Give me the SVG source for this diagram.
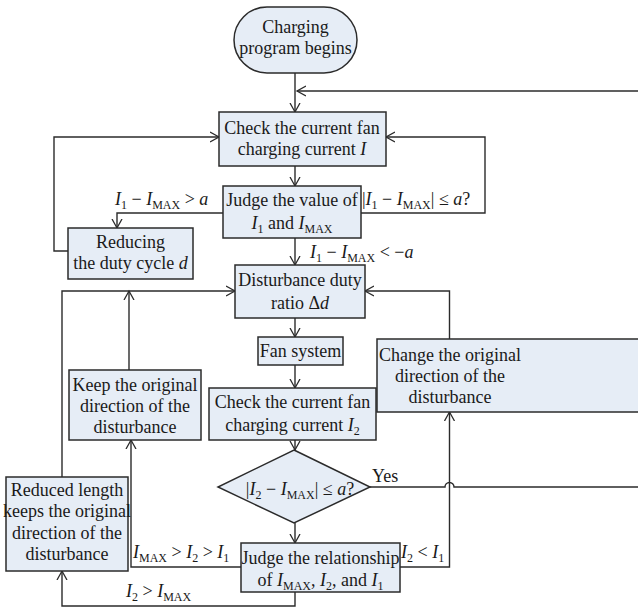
<svg xmlns="http://www.w3.org/2000/svg" width="638" height="608" viewBox="0 0 638 608">
<defs>
<marker id="ar" markerWidth="12" markerHeight="12" refX="9" refY="5" orient="auto" markerUnits="userSpaceOnUse" viewBox="0 0 12 10">
<path d="M0,0 L9,5 L0,10" fill="none" stroke="#2b2b2b" stroke-width="1.3"/>
</marker>
<style>
.b{fill:#e6edf6;stroke:#2b2b2b;stroke-width:1.5}
.c{fill:none;stroke:#2b2b2b;stroke-width:1.4}
.a{marker-end:url(#ar)}
text{font-family:"Liberation Serif","Times New Roman",serif;font-size:18px;fill:#1a1a1a}
.m{text-anchor:middle}
.i{font-style:italic}
.s{font-size:12px}
</style>
</defs>
<g id="connectors">
<path class="c a" d="M295,73 V112"/>
<path class="c a" d="M638,91 H297"/>
<path class="c a" d="M295,166 V186"/>
<path class="c a" d="M223,213 H117 V228"/>
<path class="c a" d="M68,251 H54 V137 H219"/>
<path class="c a" d="M361,213 H485 V137 H386"/>
<path class="c a" d="M295,238 V265"/>
<path class="c a" d="M295,318 V337"/>
<path class="c a" d="M295,365 V388"/>
<path class="c a" d="M295,440 V450"/>
<path class="c a" d="M295,523 V543"/>
<path class="c" d="M370,487 H445 A4.5,4.5 0 0 1 454,487 H638"/>
<path class="c a" d="M400,567 H449.5 V412"/>
<path class="c a" d="M449.5,339 V291 H365"/>
<path class="c a" d="M241,567 H131 V440"/>
<path class="c a" d="M129,370 V291"/>
<path class="c a" d="M62,477 V291 H235"/>
<path class="c a" d="M295,592 V606 H62 V571"/>
</g>
<g id="start">
<rect class="b" x="234" y="7" width="123" height="66" rx="33" ry="33"/>
<text class="m" x="295.5" y="33">Charging</text>
<text class="m" x="295.5" y="54">program begins</text>
</g>
<g id="check1">
<rect class="b" x="219" y="112" width="167" height="54"/>
<text class="m" x="302" y="134">Check the current fan</text>
<text class="m" x="302" y="155">charging current <tspan class="i">I</tspan></text>
</g>
<g id="judge1">
<rect class="b" x="223" y="186" width="138" height="52"/>
<text class="m" x="292" y="206">Judge the value of</text>
<text class="m" x="292" y="229"><tspan class="i">I</tspan><tspan class="s" dy="4">1</tspan><tspan dy="-4"> and </tspan><tspan class="i">I</tspan><tspan class="s" dy="4">MAX</tspan></text>
</g>
<g id="reducing">
<rect class="b" x="68" y="228" width="125" height="51"/>
<text class="m" x="130.5" y="248">Reducing</text>
<text class="m" x="130.5" y="269">the duty cycle <tspan class="i">d</tspan></text>
</g>
<g id="disturbance">
<rect class="b" x="235" y="265" width="130" height="53"/>
<text class="m" x="300" y="286">Disturbance duty</text>
<text class="m" x="300" y="309">ratio Δ<tspan class="i">d</tspan></text>
</g>
<g id="fan">
<rect class="b" x="258" y="337" width="85" height="28"/>
<text class="m" x="300.5" y="357">Fan system</text>
</g>
<g id="change">
<rect class="b" x="377" y="339" width="264" height="73"/>
<text class="m" x="450" y="361">Change the original</text>
<text class="m" x="450" y="382">direction of the</text>
<text class="m" x="450" y="403">disturbance</text>
</g>
<g id="keep">
<rect class="b" x="69" y="370" width="132" height="70"/>
<text class="m" x="135" y="391">Keep the original</text>
<text class="m" x="135" y="412">direction of the</text>
<text class="m" x="135" y="433">disturbance</text>
</g>
<g id="check2">
<rect class="b" x="209" y="388" width="167" height="52"/>
<text class="m" x="292.5" y="408">Check the current fan</text>
<text class="m" x="292.5" y="431">charging current <tspan class="i">I</tspan><tspan class="s" dy="4">2</tspan></text>
</g>
<g id="decision">
<polygon class="b" points="294,450 370,487 294,523 218,487"/>
<text class="m" x="300" y="495">|<tspan class="i">I</tspan><tspan class="s" dy="4">2</tspan><tspan dy="-4"> − </tspan><tspan class="i">I</tspan><tspan class="s" dy="4">MAX</tspan><tspan dy="-4">| ≤ </tspan><tspan class="i">a</tspan>?</text>
</g>
<g id="reduced">
<rect class="b" x="6" y="477" width="122" height="94"/>
<text class="m" x="67" y="496">Reduced length</text>
<text class="m" x="67" y="517">keeps the original</text>
<text class="m" x="67" y="539">direction of the</text>
<text class="m" x="67" y="560">disturbance</text>
</g>
<g id="judge2">
<rect class="b" x="241" y="543" width="159" height="49"/>
<text class="m" x="320.5" y="564">Judge the relationship</text>
<text class="m" x="320.5" y="586">of <tspan class="i">I</tspan><tspan class="s" dy="4">MAX</tspan><tspan dy="-4">, </tspan><tspan class="i">I</tspan><tspan class="s" dy="4">2</tspan><tspan dy="-4">, and </tspan><tspan class="i">I</tspan><tspan class="s" dy="4">1</tspan></text>
</g>
<g id="labels">
<text x="115" y="205"><tspan class="i">I</tspan><tspan class="s" dy="4">1</tspan><tspan dy="-4"> − </tspan><tspan class="i">I</tspan><tspan class="s" dy="4">MAX</tspan><tspan dy="-4"> &gt; </tspan><tspan class="i">a</tspan></text>
<text x="362" y="205">|<tspan class="i">I</tspan><tspan class="s" dy="4">1</tspan><tspan dy="-4"> − </tspan><tspan class="i">I</tspan><tspan class="s" dy="4">MAX</tspan><tspan dy="-4">| ≤ </tspan><tspan class="i">a</tspan>?</text>
<text x="310" y="258"><tspan class="i">I</tspan><tspan class="s" dy="4">1</tspan><tspan dy="-4"> − </tspan><tspan class="i">I</tspan><tspan class="s" dy="4">MAX</tspan><tspan dy="-4"> &lt; −</tspan><tspan class="i">a</tspan></text>
<text x="372" y="482">Yes</text>
<text x="133" y="558"><tspan class="i">I</tspan><tspan class="s" dy="4">MAX</tspan><tspan dy="-4"> &gt; </tspan><tspan class="i">I</tspan><tspan class="s" dy="4">2</tspan><tspan dy="-4"> &gt; </tspan><tspan class="i">I</tspan><tspan class="s" dy="4">1</tspan></text>
<text x="401" y="558"><tspan class="i">I</tspan><tspan class="s" dy="4">2</tspan><tspan dy="-4"> &lt; </tspan><tspan class="i">I</tspan><tspan class="s" dy="4">1</tspan></text>
<text x="126" y="597"><tspan class="i">I</tspan><tspan class="s" dy="4">2</tspan><tspan dy="-4"> &gt; </tspan><tspan class="i">I</tspan><tspan class="s" dy="4">MAX</tspan></text>
</g>
</svg>
